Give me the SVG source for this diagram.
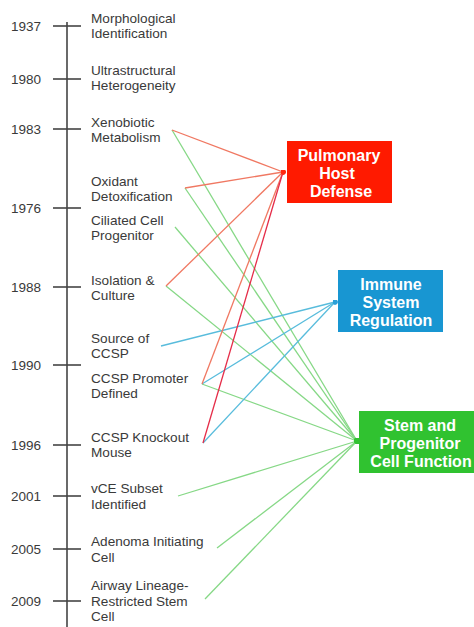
<svg xmlns="http://www.w3.org/2000/svg" width="474" height="627" viewBox="0 0 474 627">
<style>
.yr{font-family:"Liberation Sans",Arial,sans-serif;font-size:13.5px;fill:#3a3a3a}
.lb{font-family:"Liberation Sans",Arial,sans-serif;font-size:13.6px;fill:#3a3a3a}
.bx{font-family:"Liberation Sans",Arial,sans-serif;font-size:16px;font-weight:bold;fill:#fff;text-anchor:middle}
.tl{stroke:#444;stroke-width:1.6;fill:none}
.r{stroke:#f07862;stroke-width:1.3;fill:none;marker-end:url(#mr)}
.r2{stroke:#e52c48;stroke-width:1.3;fill:none;marker-end:url(#mr)}
.b{stroke:#58bcdc;stroke-width:1.3;fill:none;marker-end:url(#mb)}
.g{stroke:#86d886;stroke-width:1.3;fill:none;marker-end:url(#mg)}
</style>
<defs>
<marker id="mr" viewBox="0 0 6 6" refX="3" refY="3" markerWidth="5" markerHeight="5" markerUnits="userSpaceOnUse"><circle cx="3" cy="3" r="3" fill="#ff2a10"/></marker>
<marker id="mb" viewBox="0 0 6 6" refX="3" refY="3" markerWidth="5" markerHeight="5" markerUnits="userSpaceOnUse"><circle cx="3" cy="3" r="3" fill="#2aa0d8"/></marker>
<marker id="mg" viewBox="0 0 6 6" refX="3" refY="3" markerWidth="6" markerHeight="6" markerUnits="userSpaceOnUse"><circle cx="3" cy="3" r="3" fill="#33c233"/></marker>
</defs>
<rect width="474" height="627" fill="#fff"/>
<g id="timeline">
<line class="tl" x1="67" y1="22" x2="67" y2="627"/>
<line class="tl" x1="53" y1="26" x2="81" y2="26"/>
<line class="tl" x1="53" y1="79" x2="81" y2="79"/>
<line class="tl" x1="53" y1="129" x2="81" y2="129"/>
<line class="tl" x1="53" y1="208" x2="81" y2="208"/>
<line class="tl" x1="53" y1="287" x2="81" y2="287"/>
<line class="tl" x1="53" y1="365" x2="81" y2="365"/>
<line class="tl" x1="53" y1="445" x2="81" y2="445"/>
<line class="tl" x1="53" y1="496" x2="81" y2="496"/>
<line class="tl" x1="53" y1="549" x2="81" y2="549"/>
<line class="tl" x1="53" y1="601" x2="81" y2="601"/>
<text class="yr" x="11" y="31">1937</text>
<text class="yr" x="11" y="84">1980</text>
<text class="yr" x="11" y="134">1983</text>
<text class="yr" x="11" y="213">1976</text>
<text class="yr" x="11" y="292">1988</text>
<text class="yr" x="11" y="370">1990</text>
<text class="yr" x="11" y="450">1996</text>
<text class="yr" x="11" y="501">2001</text>
<text class="yr" x="11" y="554">2005</text>
<text class="yr" x="11" y="606">2009</text>
</g>
<g id="events">
<text class="lb" x="91" y="23">Morphological</text><text class="lb" x="91" y="38">Identification</text>
<text class="lb" x="91" y="75">Ultrastructural</text><text class="lb" x="91" y="90">Heterogeneity</text>
<text class="lb" x="91" y="127">Xenobiotic</text><text class="lb" x="91" y="142">Metabolism</text>
<text class="lb" x="91" y="186">Oxidant</text><text class="lb" x="91" y="201">Detoxification</text>
<text class="lb" x="91" y="225">Ciliated Cell</text><text class="lb" x="91" y="240">Progenitor</text>
<text class="lb" x="91" y="285">Isolation &amp;</text><text class="lb" x="91" y="300">Culture</text>
<text class="lb" x="91" y="343">Source of</text><text class="lb" x="91" y="358">CCSP</text>
<text class="lb" x="91" y="383">CCSP Promoter</text><text class="lb" x="91" y="398">Defined</text>
<text class="lb" x="91" y="442">CCSP Knockout</text><text class="lb" x="91" y="457">Mouse</text>
<text class="lb" x="91" y="493">vCE Subset</text><text class="lb" x="91" y="509">Identified</text>
<text class="lb" x="91" y="546">Adenoma Initiating</text><text class="lb" x="91" y="562">Cell</text>
<text class="lb" x="91" y="590">Airway Lineage-</text><text class="lb" x="91" y="606">Restricted Stem</text><text class="lb" x="91" y="621">Cell</text>
</g>
<g id="connectors">
<line class="g" x1="172" y1="130" x2="357" y2="441"/>
<line class="g" x1="185" y1="188" x2="357" y2="441"/>
<line class="g" x1="175" y1="227" x2="357" y2="441"/>
<line class="g" x1="166" y1="286" x2="357" y2="441"/>
<line class="g" x1="202" y1="384" x2="357" y2="441"/>
<line class="g" x1="178" y1="496" x2="357" y2="441"/>
<line class="g" x1="217" y1="548" x2="357" y2="441"/>
<line class="g" x1="205" y1="599" x2="357" y2="441"/>
<line class="b" x1="161" y1="346" x2="335" y2="302"/>
<line class="b" x1="202" y1="384" x2="335" y2="302"/>
<line class="b" x1="203" y1="443" x2="335" y2="302"/>
<line class="r" x1="172" y1="130" x2="283" y2="172"/>
<line class="r" x1="185" y1="188" x2="283" y2="172"/>
<line class="r" x1="166" y1="286" x2="283" y2="172"/>
<line class="r" x1="202" y1="384" x2="283" y2="172"/>
<line class="r2" x1="203" y1="443" x2="283" y2="172"/>
</g>
<g id="pulmonary-host-defense">
<rect x="287" y="141" width="105" height="62" fill="#ff1a00"/>
<text class="bx" x="339" y="161">Pulmonary</text>
<text class="bx" x="337" y="179">Host</text>
<text class="bx" x="341" y="197">Defense</text>
</g>
<g id="immune-system-regulation">
<rect x="338" y="270" width="105" height="62" fill="#1896d2"/>
<text class="bx" x="391" y="290">Immune</text>
<text class="bx" x="391" y="308">System</text>
<text class="bx" x="391" y="326">Regulation</text>
</g>
<g id="stem-progenitor-cell-function">
<rect x="359" y="411" width="115" height="62" fill="#30c230"/>
<text class="bx" x="420" y="431">Stem and</text>
<text class="bx" x="420" y="449">Progenitor</text>
<text class="bx" x="421" y="467">Cell Function</text>
</g>
</svg>
